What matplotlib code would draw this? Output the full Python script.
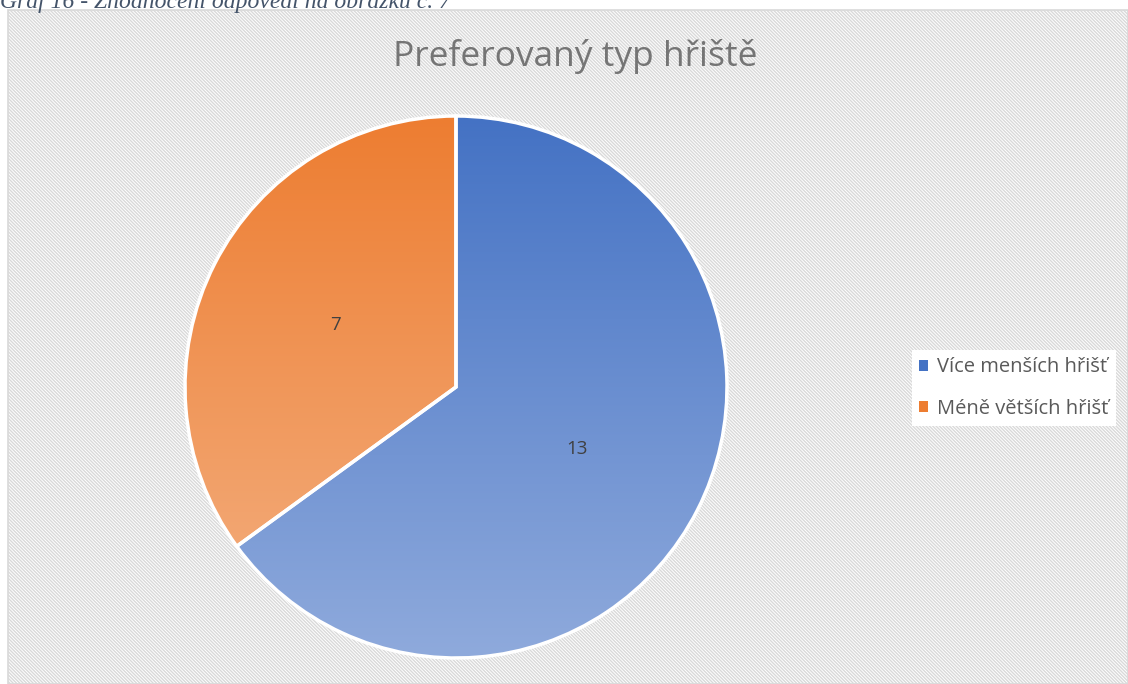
import numpy as np
import matplotlib
matplotlib.use("Agg")
import matplotlib.pyplot as plt
from matplotlib.colors import LinearSegmentedColormap
from matplotlib.patches import Rectangle, Patch

# data
labels = ["Více menších hřišť", "Méně větších hřišť"]
values = [13, 7]
top_colors = ["#4472C4", "#ED7D31"]
bottom_colors = ["#8FAADC", "#F4B183"]
title = "Preferovaný typ hřiště"
caption = "Graf 16 - Zhodnocení odpovědí na obrázku č. 7"

plt.rcParams['font.family'] = ['Open Sans', 'DejaVu Sans']
plt.rcParams['hatch.linewidth'] = 1.0
plt.rcParams['hatch.color'] = '#E2E2E2'

W, H = 1128, 684
fig = plt.figure(figsize=(W / 100, H / 100), dpi=100)
fig.patch.set_facecolor('white')

# chart area with diagonal striped background
bg = Rectangle((8 / W, 0), 1 - 8 / W, 1 - 10 / H, transform=fig.transFigure,
               facecolor='white', edgecolor='#D9D9D9', linewidth=1.2,
               hatch='\\' * 10, zorder=-5)
fig.patches.append(bg)

# caption cut off at the top
fig.text(0, 1 - 8 / H, caption, ha='left', va='baseline', fontsize=17,
         style='italic', family='Liberation Serif', color='#44546A')

fig.text(575 / W, 1 - 57 / H, title, ha='center', va='center', fontsize=25.5,
         color='#757575')

# pie axes: centre (456, 387) px, radius 271 px
cx, cy, r = 456, 387, 271
ax = fig.add_axes([(cx - r) / W, (H - cy - r) / H, 2 * r / W, 2 * r / H])
ax.set_zorder(1)
ax.patch.set_visible(False)

wedges, texts = ax.pie(values, startangle=90, counterclock=False, radius=1,
                       colors=top_colors,
                       wedgeprops=dict(edgecolor='white', linewidth=2.5))

grad = np.linspace(0, 1, 256).reshape(-1, 1)
for w, c0, c1 in zip(wedges, top_colors, bottom_colors):
    cmap = LinearSegmentedColormap.from_list('g', [c0, c1])
    im = ax.imshow(grad, cmap=cmap, extent=[-1, 1, -1, 1], origin='upper',
                   aspect='auto', zorder=1)
    im.set_clip_path(w)
    w.set_facecolor('none')
    w.set_zorder(2)
ax.set_xlim(-1, 1)
ax.set_ylim(-1, 1)
ax.set_aspect('equal')
ax.axis('off')

# value labels
total = sum(values)
ang = 90
for v, w in zip(values, wedges):
    mid = np.deg2rad(ang - v / total * 180)
    ang -= v / total * 360
    ax.text(0.5 * np.cos(mid), 0.5 * np.sin(mid), str(v), ha='center',
            va='center', fontsize=13.5, color='#404040', zorder=3)

handles = [Patch(facecolor=c, edgecolor='none') for c in top_colors]
leg = fig.legend(handles, labels, loc='center left',
                 bbox_to_anchor=(912 / W, 1 - 388 / H), frameon=True,
                 fontsize=14.5, handlelength=0.45, handleheight=0.45,
                 handletextpad=0.45, labelspacing=1.05, borderpad=0.35,
                 borderaxespad=0, labelcolor='#595959')
leg.get_frame().set_facecolor('white')
leg.get_frame().set_edgecolor('none')
leg.get_frame().set_alpha(1)
leg.get_frame().set_boxstyle('square', pad=0)

fig.savefig('out.png', dpi=100)
